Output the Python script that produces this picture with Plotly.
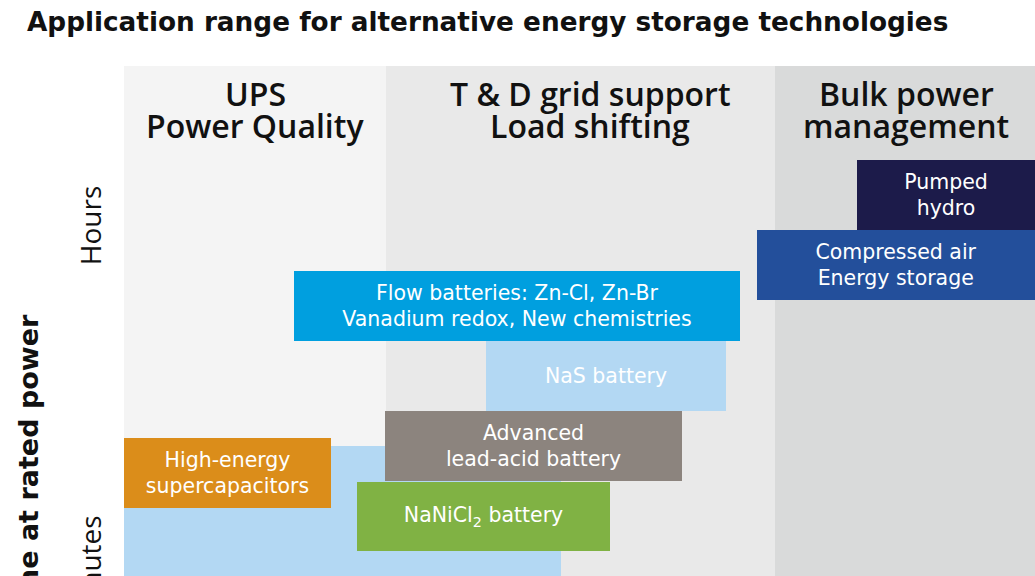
import plotly.graph_objects as go

# ---- data -------------------------------------------------------------
# Application segments along the power-rating axis (relative units)
segment_line1 = ["UPS", "T & D grid support", "Bulk power"]
segment_line2 = ["Power Quality", "Load shifting", "management"]
segment_start = [0.00, 2.62, 6.51]
segment_end = [2.62, 6.51, 9.11]
segment_label_x = [1.31, 4.66, 7.82]

# Technologies: power range (x) and discharge-time range (y), relative units
tech_labels = [
    "",
    "High-energy<br>supercapacitors",
    "NaNiCl<sub>2</sub> battery",
    "Advanced<br>lead-acid battery",
    "NaS battery",
    "Flow batteries: Zn-Cl, Zn-Br<br>Vanadium redox, New chemistries",
    "Compressed air<br>Energy storage",
    "Pumped<br>hydro",
]
power_low = [0.00, 0.00, 2.33, 2.61, 3.62, 1.70, 6.33, 7.33]
power_high = [4.37, 2.07, 4.86, 5.58, 6.02, 6.16, 9.11, 9.11]
time_low = [-0.60, 0.68, 0.25, 0.95, 1.65, 2.35, 2.76, 3.46]
time_high = [1.30, 1.38, 0.94, 1.65, 2.35, 3.05, 3.46, 4.16]

# ---- styles -----------------------------------------------------------
segment_colors = ["#f4f4f4", "#e9e9e9", "#d9dada"]
tech_colors = ["#b3d8f3", "#db8d1a", "#80b244", "#8c847e", "#b3d8f3",
               "#009fdf", "#234f9b", "#1c1b4a"]
WIDE = "DejaVu Sans"
HEAD = "Open Sans"
INK = "#111111"

fig = go.Figure()

fig.add_trace(go.Bar(
    orientation="h",
    y=[(a + b) / 2 for a, b in zip(time_low, time_high)],
    x=[b - a for a, b in zip(power_low, power_high)],
    base=power_low,
    width=[b - a for a, b in zip(time_low, time_high)],
    marker=dict(color=tech_colors, line=dict(width=0)),
    text=tech_labels,
    textposition="inside",
    insidetextanchor="middle",
    constraintext="none",
    textfont=dict(family=WIDE, size=20.5, color="white"),
    hoverinfo="skip",
    showlegend=False,
))

shapes = []
for x0, x1, c in zip(segment_start, segment_end, segment_colors):
    shapes.append(dict(type="rect", xref="x", yref="paper", x0=x0, x1=x1,
                       y0=0, y1=1, fillcolor=c, line=dict(width=0),
                       layer="below"))

annotations = []
for x, l1, l2 in zip(segment_label_x, segment_line1, segment_line2):
    annotations.append(dict(text=l1, x=x, y=0.947, xref="x", yref="paper",
                            xanchor="center", yanchor="middle", showarrow=False,
                            font=dict(family=HEAD, size=32, color=INK, weight=600)))
    annotations.append(dict(text=l2, x=x, y=0.884, xref="x", yref="paper",
                            xanchor="center", yanchor="middle", showarrow=False,
                            font=dict(family=HEAD, size=32, color=INK, weight=600)))

annotations.append(dict(text="Hours", x=-0.0373, y=0.686, xref="paper", yref="paper",
                        xanchor="center", yanchor="middle", textangle=-90,
                        showarrow=False, font=dict(family=HEAD, size=28, color=INK)))
annotations.append(dict(text="Minutes", x=-0.0373, y=0.1235, xref="paper", yref="paper",
                        xanchor="center", yanchor="top", textangle=-90,
                        showarrow=False, font=dict(family=HEAD, size=28, color=INK)))
annotations.append(dict(text="Discharge time at rated power", x=-0.105, y=0.518,
                        xref="paper", yref="paper", xanchor="center", yanchor="top",
                        textangle=-90, showarrow=False,
                        font=dict(family=WIDE, size=27, color=INK, weight="bold")))

fig.update_layout(
    width=1035, height=576,
    margin=dict(l=124, r=0, t=66, b=0),
    paper_bgcolor="white", plot_bgcolor="white",
    barmode="overlay",
    xaxis=dict(range=[0, 9.11], visible=False, fixedrange=True),
    yaxis=dict(range=[0, 5.10], visible=False, fixedrange=True),
    shapes=shapes,
    annotations=annotations,
    title=dict(text="Application range for alternative energy storage technologies",
               x=27 / 1035, xanchor="left", xref="container",
               y=1 - 22 / 576, yanchor="middle", yref="container",
               font=dict(family=WIDE, size=26.3, color=INK, weight="bold")),
)

fig.write_html("out.html", config={"displayModeBar": False},
               post_script="document.body.style.margin='0';")
